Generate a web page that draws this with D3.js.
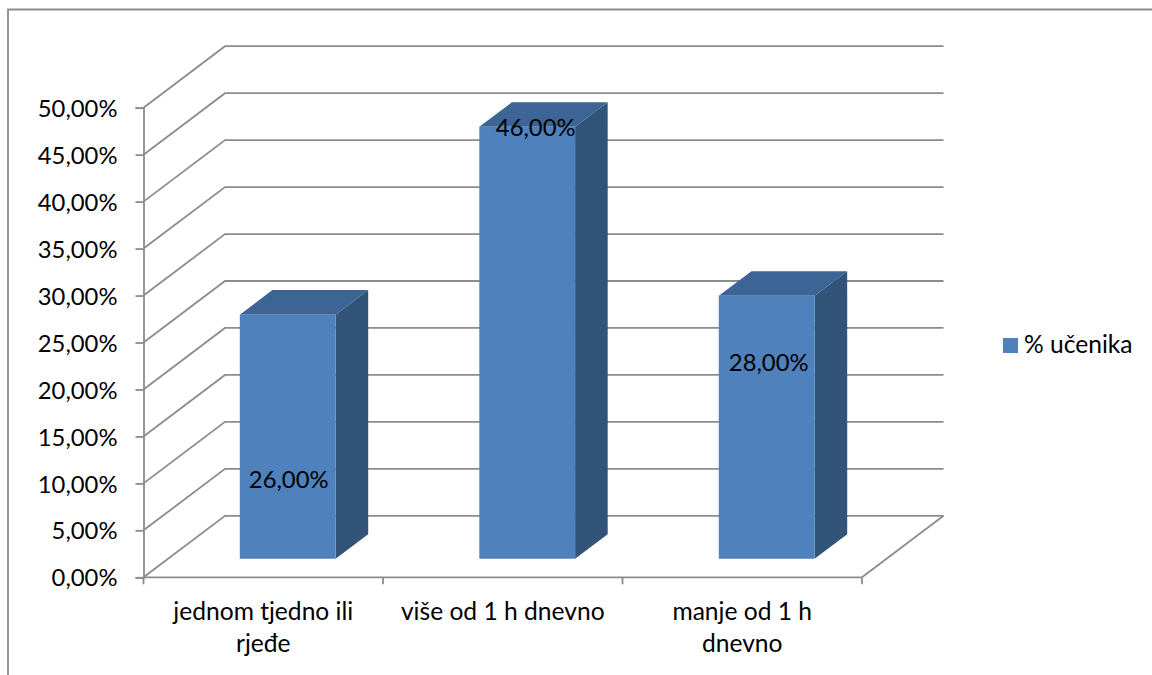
<!DOCTYPE html>
<html>
<head>
<meta charset="utf-8">
<script src="https://cdn.jsdelivr.net/npm/d3@7"></script>
<style>
  html, body { margin: 0; padding: 0; background: #fff; }
  svg { display: block; }
  text { font-family: Lato, "Open Sans", sans-serif; fill: #000; }
</style>
</head>
<body>
<svg id="chart" width="1152" height="675"></svg>
<script>
var categories = ['jednom tjedno ili rjeđe', 'više od 1 h dnevno', 'manje od 1 h dnevno'];
var categoryLines = [['jednom tjedno ili', 'rjeđe'], ['više od 1 h dnevno'], ['manje od 1 h', 'dnevno']];
var values = [26, 46, 28];
var valueTicks = [0, 5, 10, 15, 20, 25, 30, 35, 40, 45, 50];
var seriesName = '% učenika';

// data labels were moved by hand in the original, pixels from the top centre of the bar front
var labelDrop = [165, 1, 67];
var labelShift = [1, 8.5, 2];

var GREY = '#8c8c8c';
var FRONT = '#4f81bd', SIDE = '#325479', TOP = '#3c6494';
var NUM_FONT = 23.8, TXT_FONT = 24.6;

var svg = d3.select('#chart');

var x = d3.scaleBand().domain(categories).range([143.5, 862]);
var y = d3.scaleLinear().domain([0, 50]).range([577.3, 107.7]);
// depth of the fake 3d box, 0 = front edge, 1 = back wall
var depth = { x: d3.scaleLinear().domain([0, 1]).range([0, 81.5]),
              y: d3.scaleLinear().domain([0, 1]).range([0, -61.5]) };

function pt (px, val, d) {
  return [px + depth.x(d), y(val) + depth.y(d)];
}
var line = d3.line();

// chart border, only top and left show
svg.append('path')
  .attr('d', 'M8,675V9.5H1152')
  .attr('fill', 'none').attr('stroke', GREY).attr('stroke-width', 1.8);

// grid: side wall + back wall
var x0 = x.range()[0], x1 = x.range()[1];
svg.append('g').selectAll('path')
  .data(valueTicks)
  .enter().append('path')
  .attr('d', function (v) {
    return line([pt(x0, v, 0), pt(x0, v, 1), pt(x1, v, 1)]);
  })
  .attr('fill', 'none').attr('stroke', GREY).attr('stroke-width', 1.8);

// floor right edge
svg.append('path')
  .attr('d', line([pt(x1, 0, 0), pt(x1, 0, 1)]))
  .attr('fill', 'none').attr('stroke', GREY).attr('stroke-width', 1.8);

// y axis
var yAxis = d3.axisLeft(y)
  .tickValues(valueTicks)
  .tickSize(8)
  .tickPadding(18)
  .tickFormat(function (v) { return d3.format('.2f')(v).replace('.', ',') + '%'; });
var yg = svg.append('g').attr('transform', 'translate(' + x0 + ',0)').call(yAxis);
yg.select('.domain').attr('stroke', GREY).attr('stroke-width', 1.8);
yg.selectAll('.tick line').attr('stroke', GREY).attr('stroke-width', 1.8);
yg.selectAll('.tick text').attr('y', 1).style('font-size', NUM_FONT + 'px').style('font-family', 'Lato').attr('fill', '#000');

// x axis, labels in the middle of the band and ticks on band edges
var xAxis = d3.axisBottom(x).tickSize(0).tickPadding(0).tickFormat('');
var xg = svg.append('g').attr('transform', 'translate(0,' + y(0) + ')').call(xAxis);
xg.select('.domain').remove();
xg.selectAll('.tick text').remove();
xg.append('path')
  .attr('d', 'M' + x0 + ',0H' + x1)
  .attr('stroke', GREY).attr('stroke-width', 1.8);
xg.selectAll('.edge')
  .data(d3.range(categories.length + 1))
  .enter().append('line')
  .attr('class', 'edge')
  .attr('x1', function (i) { return x0 + i * x.bandwidth(); })
  .attr('x2', function (i) { return x0 + i * x.bandwidth(); })
  .attr('y1', 0).attr('y2', 7)
  .attr('stroke', GREY).attr('stroke-width', 1.8);

xg.selectAll('.tick').each(function (d, i) {
  var t = d3.select(this).append('text')
    .attr('text-anchor', 'middle')
    .style('font-size', TXT_FONT + 'px')
    .style('font-family', 'Lato')
    .attr('fill', '#000');
  categoryLines[i].forEach(function (s, j) {
    t.append('tspan').attr('x', 0).attr('y', 43 + j * 31.5).text(s);
  });
});

// bars
var barW = x.bandwidth() * 0.4;
var d0 = 0.3, d1 = 0.7;
var bars = svg.append('g').selectAll('g')
  .data(values)
  .enter().append('g');

function left (i) { return x(categories[i]) + (x.bandwidth() - barW) / 2; }

bars.append('path').attr('fill', SIDE)
  .attr('d', function (v, i) {
    var r = left(i) + barW;
    return line([pt(r, 0, d0), pt(r, 0, d1), pt(r, v, d1), pt(r, v, d0)]) + 'Z';
  });
bars.append('path').attr('fill', TOP)
  .attr('d', function (v, i) {
    var l = left(i), r = l + barW;
    return line([pt(l, v, d0), pt(r, v, d0), pt(r, v, d1), pt(l, v, d1)]) + 'Z';
  });
bars.append('path').attr('fill', FRONT)
  .attr('d', function (v, i) {
    var l = left(i), r = l + barW;
    return line([pt(l, 0, d0), pt(r, 0, d0), pt(r, v, d0), pt(l, v, d0)]) + 'Z';
  });

bars.append('text')
  .attr('text-anchor', 'middle')
  .style('font-size', NUM_FONT + 'px')
  .attr('x', function (v, i) { return pt(left(i) + barW / 2, v, d0)[0] + labelShift[i]; })
  .attr('y', function (v, i) { return pt(0, v, d0)[1] + labelDrop[i] + 8; })
  .text(function (v) { return d3.format('.2f')(v).replace('.', ',') + '%'; });

// legend
var legend = svg.append('g').attr('transform', 'translate(1003,338)');
legend.append('rect').attr('width', 15).attr('height', 15).attr('fill', FRONT);
legend.append('text').attr('x', 21).attr('y', 15).style('font-size', TXT_FONT + 'px').text(seriesName);
</script>
</body>
</html>
